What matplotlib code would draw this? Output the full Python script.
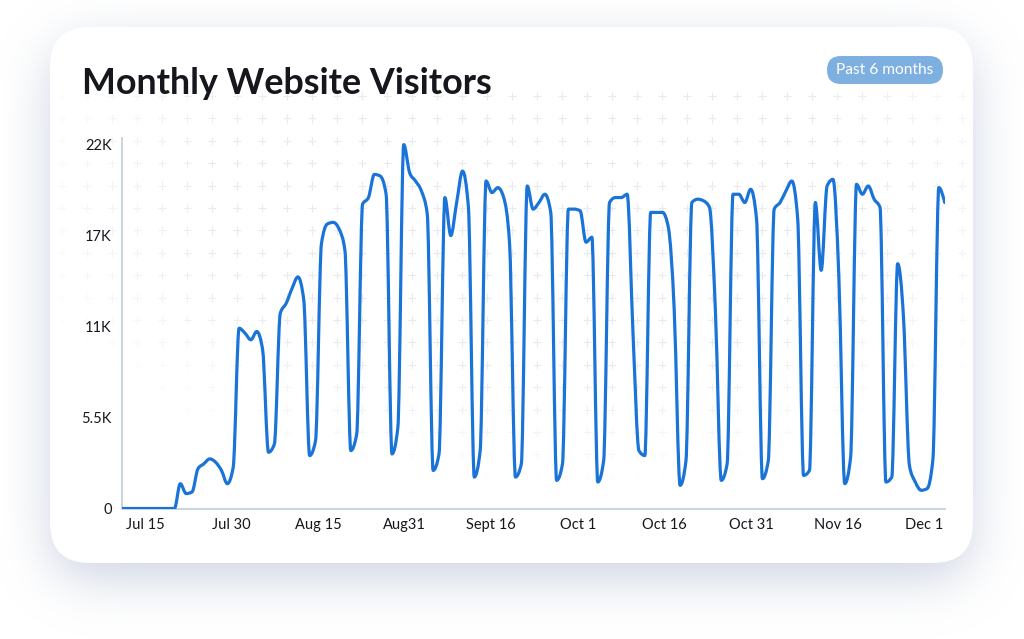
import numpy as np
import matplotlib.pyplot as plt
from matplotlib.patches import FancyBboxPatch, PathPatch
from matplotlib.path import Path

# daily visitors, one value per day
visitors = [
    0, 0, 0, 0, 0, 0, 0, 0, 0, 0,
    1500, 900, 1000, 2400, 2700, 3000, 2800, 2300, 1500, 2500,
    10900, 10600, 10200, 10700, 9600, 3400, 3900,
    11800, 12400, 13300, 14000, 12600, 3200, 4100,
    16000, 17200, 17300, 16900, 15600, 3500, 4500,
    18400, 18800, 20200, 20100, 19000, 3300, 4900,
    22000, 20300, 19800, 19200, 17800, 2300, 3300,
    18800, 16500, 18500, 20400, 18200, 1900, 3500,
    19800, 19100, 19400, 18800, 16000, 1900, 2700,
    19500, 18100, 18500, 19000, 17900, 1700, 2700,
    18100, 18100, 18000, 16100, 16400, 1600, 2900,
    18500, 18800, 18800, 19000, 10500, 3500, 3200,
    17900, 17900, 17900, 17000, 12000, 1400, 2900,
    18500, 18700, 18600, 18200, 12000, 1700, 2700,
    19000, 19000, 18500, 19300, 17500, 1800, 2900,
    18100, 18500, 19200, 19800, 17500, 2000, 2300,
    18500, 14400, 19500, 19900, 14000, 1500, 3100,
    19600, 19000, 19500, 18700, 18200, 1600, 1900,
    14800, 11500, 2600, 1600, 1100, 1200, 3000,
    19400, 18500,
]
x_labels = ["Jul 15", "Jul 30", "Aug 15", "Aug31", "Sept 16", "Oct 1",
            "Oct 16", "Oct 31", "Nov 16", "Dec 1"]
y_ticks = [0, 5500, 11000, 16500, 22000]
y_labels = ["0", "5.5K", "11K", "17K", "22K"]

W, H = 1024, 639
font = "Lato"
line_col = "#1a74d8"
text_col = "#15171c"
axis_col = "#c9d4e2"

fig = plt.figure(figsize=(W / 100, H / 100), dpi=100)
fig.patch.set_facecolor("white")

# background layer in pixel coords
bg = fig.add_axes([0, 0, 1, 1])
bg.set_xlim(0, W)
bg.set_ylim(H, 0)
bg.axis("off")

cx0, cy0, cx1, cy1, rad = 50, 27, 973, 563, 40

# soft shadow under the card
yy, xx = np.mgrid[0:H, 0:W] + 0.5
off = 16
qx = np.maximum(np.abs(xx - (cx0 + cx1) / 2) - ((cx1 - cx0) / 2 - rad), 0)
qy = np.maximum(np.abs(yy - ((cy0 + cy1) / 2 + off)) - ((cy1 - cy0) / 2 - rad), 0)
mask = (np.hypot(qx, qy) <= rad).astype(float)
sig = 24
k = np.arange(-3 * sig, 3 * sig + 1)
kern = np.exp(-k ** 2 / (2 * sig ** 2))
kern /= kern.sum()
blur = np.array([np.convolve(r, kern, mode="same") for r in mask])
blur = np.array([np.convolve(c, kern, mode="same") for c in blur.T]).T
shadow = np.zeros((H, W, 4))
shadow[..., 0] = 0.79
shadow[..., 1] = 0.82
shadow[..., 2] = 0.88
shadow[..., 3] = blur * 0.9
bg.imshow(shadow, extent=(0, W, H, 0), zorder=0, interpolation="bilinear")

card = FancyBboxPatch((cx0, cy0), cx1 - cx0, cy1 - cy0,
                      boxstyle="round,pad=0,rounding_size=%d" % rad,
                      fc="white", ec="none", zorder=1)
bg.add_patch(card)

# faint plus grid, fading out toward the edges
gx, gy = np.meshgrid(np.arange(62, 965, 25), np.arange(96, 500, 22.4))
gx, gy = gx.ravel(), gy.ravel()
fade = 1 - ((gx - 540) / 540) ** 2 - ((gy - 200) / 290) ** 2
fade = np.clip(fade * 1.5, 0, 1)
cols = np.zeros((len(gx), 4))
cols[:, :3] = 0.85
cols[:, 3] = fade * 0.55
bg.scatter(gx, gy, marker="+", s=36, c=cols, linewidths=0.8, zorder=2)

bg.text(82, 94, "Monthly Website Visitors", fontsize=25.8, fontweight="bold",
        family=font, color=text_col, ha="left", va="baseline", zorder=3)

badge = FancyBboxPatch((827, 56), 116, 28,
                       boxstyle="round,pad=0,rounding_size=14",
                       fc="#7db0e0", ec="none", zorder=3)
bg.add_patch(badge)
bg.text(885, 70.5, "Past 6 months", fontsize=11.2, family=font,
        color="white", ha="center", va="center", zorder=4)

# chart
ax = fig.add_axes([121.5 / W, 1 - 508.5 / H, (944.7 - 121.5) / W, (508.5 - 138) / H])
ax.patch.set_alpha(0)

days = np.arange(len(visitors), dtype=float)
vals = np.asarray(visitors, dtype=float)

# monotone cubic (curveMonotoneX style) drawn as bezier segments
h = np.diff(days)
s = np.diff(vals) / h
t = np.zeros_like(vals)
for i in range(1, len(vals) - 1):
    p = (s[i - 1] * h[i] + s[i] * h[i - 1]) / (h[i - 1] + h[i])
    t[i] = (np.sign(s[i - 1]) + np.sign(s[i])) * min(abs(s[i - 1]), abs(s[i]), 0.5 * abs(p))
t[0] = (3 * s[0] - t[1]) / 2
t[-1] = (3 * s[-1] - t[-2]) / 2
verts = [(days[0], vals[0])]
codes = [Path.MOVETO]
for i in range(len(vals) - 1):
    dx = h[i] / 3
    verts += [(days[i] + dx, vals[i] + dx * t[i]),
              (days[i + 1] - dx, vals[i + 1] - dx * t[i + 1]),
              (days[i + 1], vals[i + 1])]
    codes += [Path.CURVE4] * 3
ax.add_patch(PathPatch(Path(verts, codes), fill=False, ec=line_col, lw=2.3,
                       capstyle="round", joinstyle="round", zorder=3))

ax.set_xlim(0, len(visitors) - 1)
ax.set_ylim(0, 22400)

for side in ["top", "right"]:
    ax.spines[side].set_visible(False)
for side in ["left", "bottom"]:
    ax.spines[side].set_color(axis_col)
    ax.spines[side].set_linewidth(1.4)

ax.set_yticks(y_ticks)
ax.set_yticklabels(y_labels)
ax.set_xticks(np.linspace(4.0, 136.5, len(x_labels)))
ax.set_xticklabels(x_labels)
ax.tick_params(length=0, labelsize=10.5, colors=text_col, pad=7)
for lab in ax.get_xticklabels() + ax.get_yticklabels():
    lab.set_family(font)

fig.savefig("out.png", dpi=100)
